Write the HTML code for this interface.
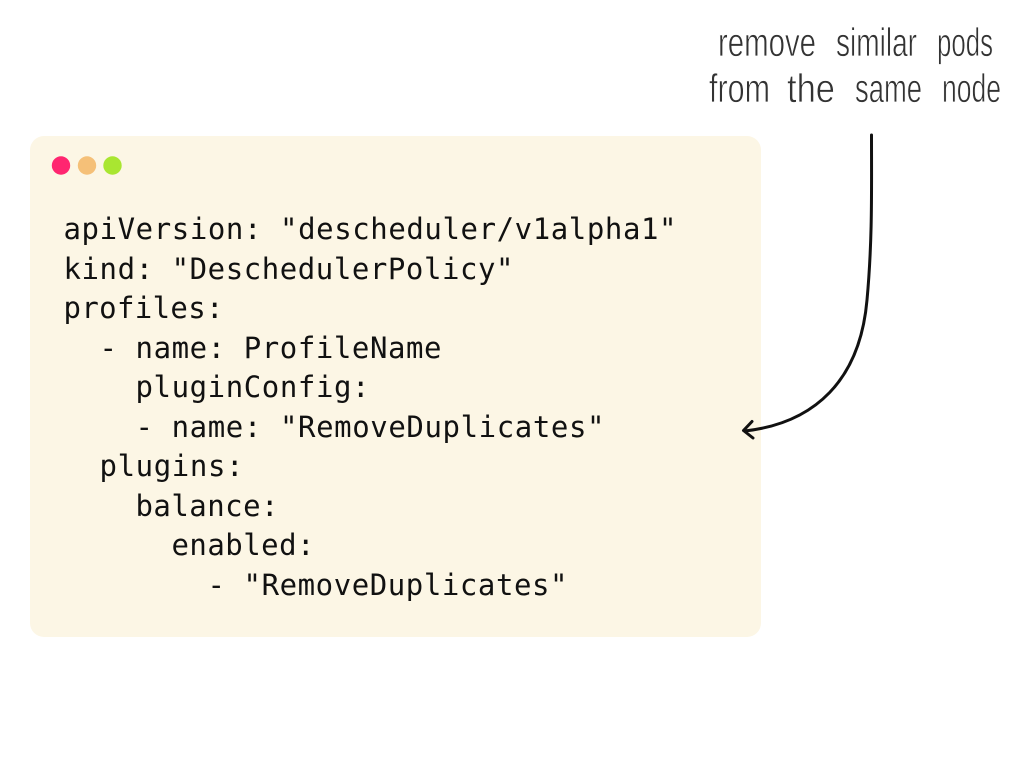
<!DOCTYPE html>
<html><head><meta charset="utf-8"><style>
html,body{margin:0;padding:0;background:#fff}
body{width:1032px;height:774px;overflow:hidden;position:relative}
svg{position:absolute;left:0;top:0}
.c{font-family:"DejaVu Sans Mono","Liberation Mono",monospace;font-size:29px;fill:#111;white-space:pre}
.h text{font-family:"Liberation Sans",sans-serif;font-size:40px;fill:#333;stroke:#fff;stroke-width:.7px;paint-order:normal}
</style></head><body>
<svg width="1032" height="774" viewBox="0 0 1032 774">
<rect x="30" y="136" width="731" height="501" rx="14" fill="#fcf6e5"/>
<circle cx="61" cy="165.500" r="9.200" fill="#ff2670"/>
<circle cx="87" cy="165.500" r="9.200" fill="#f5c078"/>
<circle cx="112.500" cy="165.500" r="9.200" fill="#a9e631"/>
<g class="c" xml:space="preserve">
<text x="63.500" y="239" textLength="613" lengthAdjust="spacing">apiVersion: "descheduler/v1alpha1"</text>
<text x="63.500" y="279" textLength="450" lengthAdjust="spacing">kind: "DeschedulerPolicy"</text>
<text x="63.500" y="318" textLength="160" lengthAdjust="spacing">profiles:</text>
<text x="99.500" y="358" textLength="342" lengthAdjust="spacing">- name: ProfileName</text>
<text x="135.500" y="397" textLength="234" lengthAdjust="spacing">pluginConfig:</text>
<text x="135.500" y="437" textLength="469" lengthAdjust="spacing">- name: "RemoveDuplicates"</text>
<text x="99.500" y="476" textLength="144" lengthAdjust="spacing">plugins:</text>
<text x="135.500" y="516" textLength="143" lengthAdjust="spacing">balance:</text>
<text x="171.500" y="555" textLength="143" lengthAdjust="spacing">enabled:</text>
<text x="207.500" y="595" textLength="360" lengthAdjust="spacing">- "RemoveDuplicates"</text>
</g>
<g class="h">
<text x="718" y="56" textLength="98" lengthAdjust="spacingAndGlyphs">remove</text>
<text x="836" y="56" textLength="81" lengthAdjust="spacingAndGlyphs">similar</text>
<text x="937" y="56" textLength="56" lengthAdjust="spacingAndGlyphs">pods</text>
<text x="709" y="102" textLength="61" lengthAdjust="spacingAndGlyphs">from</text>
<text x="787" y="102" textLength="48" lengthAdjust="spacingAndGlyphs">the</text>
<text x="855" y="102" textLength="67" lengthAdjust="spacingAndGlyphs">same</text>
<text x="942" y="102" textLength="59" lengthAdjust="spacingAndGlyphs">node</text>
</g>
<path d="M871.500 135C871.500 190 872.500 240 867 300C860 380 815 423 745 431" fill="none" stroke="#111" stroke-width="3" stroke-linecap="round"/>
<path d="M752 421.500L743.500 430.500L753 438" fill="none" stroke="#111" stroke-width="3" stroke-linecap="round" stroke-linejoin="round"/>
</svg>
</body></html>
